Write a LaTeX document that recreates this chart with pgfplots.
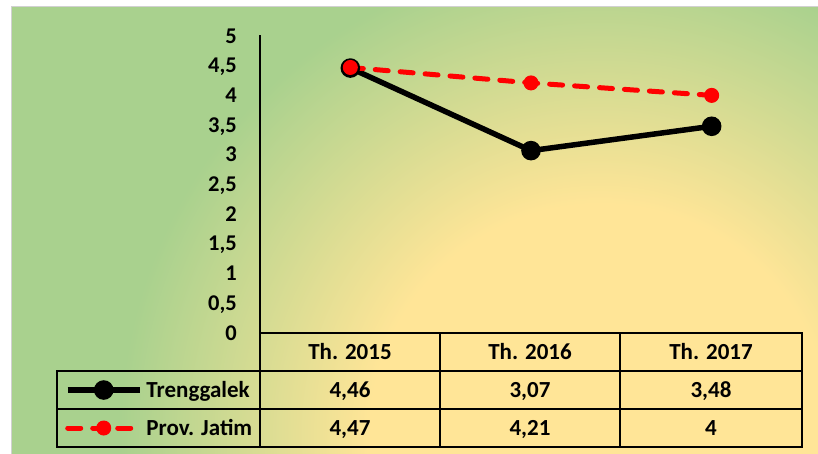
\documentclass[border=0pt]{standalone}
\usepackage{pgfplots}
\pgfplotsset{compat=1.18}
\usepackage{fontspec}
\setmainfont{Carlito}
\definecolor{bggreen}{HTML}{A9D18E}
\definecolor{bgyellow}{HTML}{FFE597}
\pgfdeclareradialshading{bgrad}{\pgfpoint{0bp}{0bp}}{color(0bp)=(bgyellow); color(11.5bp)=(bgyellow); color(24bp)=(bggreen); color(25bp)=(bggreen); color(50bp)=(bggreen)}
\newcommand\tf{\fontsize{23bp}{27bp}\selectfont\bfseries}
\newcommand\tkf{\fontsize{22.5bp}{26bp}\selectfont\bfseries}
\begin{document}
\begin{tikzpicture}[x=1bp,y=1bp]
\useasboundingbox (0,0) rectangle (818,454);
\fill[white] (0,0) rectangle (818,454);
\begin{scope}
\clip (12,0) rectangle (818,447);
\fill[bggreen] (12,0) rectangle (818,447);
\shade[shading=bgrad] (600,20) circle (500);
\end{scope}
\draw[black!18, line width=1bp] (11.5,0) -- (11.5,447.5) -- (818,447.5);
\begin{axis}[
  at={(260bp,121bp)}, anchor=south west,
  scale only axis, width=542bp, height=297bp,
  xmin=-0.5, xmax=2.5, ymin=0, ymax=5,
  axis x line=none, axis y line*=left,
  axis line style={line width=2bp, -},
  xtick=\empty,
  ytick={0,0.5,1,1.5,2,2.5,3,3.5,4,4.5,5},
  major tick length=0pt,
  tick label style={font=\tkf},
  yticklabel style={anchor=base east, inner sep=0pt, xshift=-23bp, yshift=-7.1bp,
    /pgf/number format/.cd, fixed, use comma, precision=1, assume math mode=true},
  clip=false,
  legend style={
    at={(axis description cs:-0.3598,-0.128)}, anchor=north west,
    draw=none, fill=none, inner sep=0pt, outer sep=0pt,
    column sep=4bp, row sep=0pt, font=\tf,
    nodes={inner sep=0pt, minimum height=38bp, text height=17bp, text depth=2.2bp},
  },
  legend cell align=left,
  legend image code/.code={\draw[mark repeat=2, mark phase=2] plot coordinates {(0bp,0bp) (36bp,0bp) (72bp,0bp)};},
]
\addplot[black, line width=5.5bp, mark=*, mark size=7bp, mark options={solid, fill=black}]
  coordinates {(0,4.46) (1,3.07) (2,3.48)};
\addlegendentry{Trenggalek}
\addplot[red, line width=5bp, line cap=round, dash pattern=on 13bp off 12bp, mark=*, mark size=7bp, mark options={solid, fill=red, draw=red, line width=1bp}]
  coordinates {(0,4.47) (1,4.21) (2,4)};
\addlegendentry{Prov. Jatim}
\end{axis}
% data table grid
\begin{scope}[line width=2bp, line cap=rect]
\draw (260,121) -- (802,121);
\draw (57,83) -- (802,83);
\draw (57,45) -- (802,45);
\draw (57,7) -- (802,7);
\draw (260,7) -- (260,418);
\draw (440,7) -- (440,121);
\draw (620,7) -- (620,121);
\draw (802,7) -- (802,121);
\draw (57,7) -- (57,83);
\end{scope}
\begin{scope}[every node/.style={font=\tf, anchor=base, inner sep=0pt}]
\node at (350,94.6) {Th. 2015};
\node at (530,94.6) {Th. 2016};
\node at (711,94.6) {Th. 2017};
\node at (350,56.6) {4,46};
\node at (530,56.6) {3,07};
\node at (711,56.6) {3,48};
\node at (350,18.6) {4,47};
\node at (530,18.6) {4,21};
\node at (711,18.6) {4};
\end{scope}
\end{tikzpicture}
\end{document}
